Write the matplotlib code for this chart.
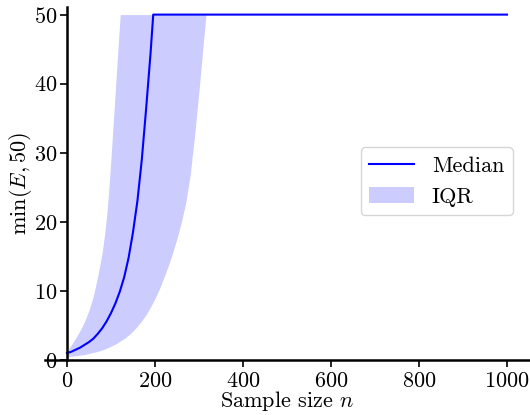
import matplotlib
matplotlib.use("Agg")
import matplotlib.pyplot as plt
import numpy as np

plt.rcParams['font.family'] = 'serif'
plt.rcParams['font.serif'] = ['cmr10', 'DejaVu Serif']
plt.rcParams['mathtext.fontset'] = 'cm'
plt.rcParams['axes.formatter.use_mathtext'] = True
plt.rcParams['font.size'] = 16

# median of min(E, 50)
n_med = [0, 10, 20, 30, 40, 50, 60, 70, 80, 90, 100, 110, 120, 130, 140,
         150, 160, 170, 180, 190, 196, 1000]
median = [1.0, 1.2, 1.5, 1.8, 2.2, 2.6, 3.1, 3.8, 4.6, 5.6, 6.8, 8.2, 9.9,
          12.0, 14.8, 18.5, 23.0, 29.0, 36.5, 44.5, 50.0, 50.0]

# interquartile range (25% / 75%)
n_iqr = [0, 10, 20, 30, 40, 50, 60, 70, 80, 85, 90, 95, 100, 105, 110, 115,
         121, 130, 140, 150, 160, 170, 180, 190, 200, 210, 220, 230, 240,
         250, 260, 270, 280, 290, 300, 310, 316, 1000]
q25 = [0.5, 0.55, 0.62, 0.7, 0.8, 0.95, 1.1, 1.25, 1.45, 1.57, 1.7, 1.85,
       2.0, 2.15, 2.3, 2.5, 2.75, 3.1, 3.6, 4.2, 4.9, 5.7, 6.6, 7.7, 8.9,
       10.3, 11.9, 13.6, 15.5, 17.6, 20.0, 22.8, 26.8, 32.5, 39.0, 46.0,
       50.0, 50.0]
q75 = [1.2, 2.2, 3.2, 4.3, 5.6, 7.2, 9.3, 12.2, 15.6, 18.0, 20.8, 24.6,
       29.3, 34.2, 39.2, 44.2, 50.0, 50.0, 50.0, 50.0, 50.0, 50.0, 50.0,
       50.0, 50.0, 50.0, 50.0, 50.0, 50.0, 50.0, 50.0, 50.0, 50.0, 50.0,
       50.0, 50.0, 50.0, 50.0]

fig = plt.figure(figsize=(5.3, 4.15), dpi=100)
ax = fig.add_axes([45 / 530, 55 / 415, 484 / 530, 353 / 415])

ax.plot(n_med, median, color='blue', lw=1.5, label='Median')
ax.fill_between(n_iqr, q25, q75, color='blue', alpha=0.2, lw=0, label='IQR')

ax.set_xlim(-50, 1050)
ax.set_ylim(0, 51.1)
ax.set_xticks([0, 200, 400, 600, 800, 1000])
ax.set_yticks([0, 10, 20, 30, 40, 50])

ax.spines['left'].set_position('zero')
ax.spines['bottom'].set_position('zero')
ax.spines['top'].set_visible(False)
ax.spines['right'].set_visible(False)
for s in ['left', 'bottom']:
    ax.spines[s].set_linewidth(1.8)
ax.tick_params(width=1.2, length=5, labelsize=16)
ax.tick_params(axis='x', pad=3)
ax.tick_params(axis='y', pad=2)

ax.set_xlabel('Sample size $n$', labelpad=-1)
ax.set_ylabel(r'$\min(E, 50)$', labelpad=0)

ax.legend(loc='upper left', bbox_to_anchor=(0.652, 0.602), borderaxespad=0,
          fontsize=16)

fig.savefig('out.png', dpi=100)
